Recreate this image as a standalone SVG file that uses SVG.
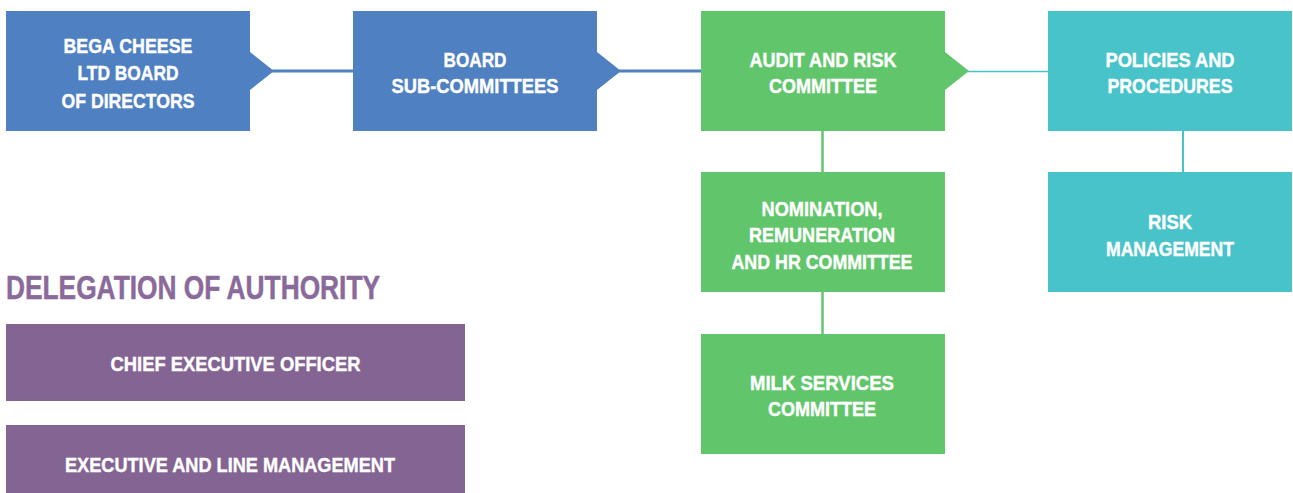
<svg xmlns="http://www.w3.org/2000/svg" width="1293" height="493" viewBox="0 0 1293 493">
  <style>
    .blue { fill: #4E80C2; }
    .green { fill: #61C66B; }
    .teal { fill: #48C3C9; }
    .purple { fill: #846493; }
    .lbl { font-family: "Liberation Sans", Arial, sans-serif; font-weight: bold; font-size: 20px; fill: #FFFFFF; stroke: #FFFFFF; stroke-width: 0.4; text-anchor: middle; }
    .title { font-family: "Liberation Sans", Arial, sans-serif; font-weight: bold; font-size: 34px; fill: #8A6A9A; stroke: #8A6A9A; stroke-width: 0.5; }
    .ln { fill: none; }
  </style>
  <rect width="1293" height="493" fill="#FFFFFF"/>

  <!-- connectors -->
  <g id="connectors">
    <line class="ln" x1="272" y1="71" x2="354" y2="71" stroke="#4E80C2" stroke-width="3"/>
    <line class="ln" x1="619" y1="71" x2="702" y2="71" stroke="#4E80C2" stroke-width="3"/>
    <line class="ln" x1="967" y1="71.5" x2="1049" y2="71.5" stroke="#48C3C9" stroke-width="1.6"/>
    <line class="ln" x1="822.5" y1="130" x2="822.5" y2="173" stroke="#61C66B" stroke-width="2.5"/>
    <line class="ln" x1="822.5" y1="291" x2="822.5" y2="335" stroke="#61C66B" stroke-width="2.5"/>
    <line class="ln" x1="1183" y1="130" x2="1183" y2="173" stroke="#48C3C9" stroke-width="2"/>
  </g>

  <!-- board of directors -->
  <g id="board-of-directors">
    <path class="blue" d="M6 11 H250 V52 L274 71 L250 90 V131 H6 Z"/>
    <text class="lbl" x="128" y="52.5" textLength="129" lengthAdjust="spacingAndGlyphs">BEGA CHEESE</text>
    <text class="lbl" x="128" y="80" textLength="101" lengthAdjust="spacingAndGlyphs">LTD BOARD</text>
    <text class="lbl" x="128" y="107.5" textLength="133" lengthAdjust="spacingAndGlyphs">OF DIRECTORS</text>
  </g>

  <!-- board sub-committees -->
  <g id="board-sub-committees">
    <path class="blue" d="M353 11 H597 V52 L621 71 L597 90 V131 H353 Z"/>
    <text class="lbl" x="475" y="66.5" textLength="63" lengthAdjust="spacingAndGlyphs">BOARD</text>
    <text class="lbl" x="475" y="93" textLength="167" lengthAdjust="spacingAndGlyphs">SUB-COMMITTEES</text>
  </g>

  <!-- audit and risk committee -->
  <g id="audit-risk-committee">
    <path class="green" d="M701 11 H945 V52 L969 71 L945 90 V131 H701 Z"/>
    <text class="lbl" x="823" y="67" textLength="147" lengthAdjust="spacingAndGlyphs">AUDIT AND RISK</text>
    <text class="lbl" x="823" y="93" textLength="108" lengthAdjust="spacingAndGlyphs">COMMITTEE</text>
  </g>

  <!-- policies and procedures -->
  <g id="policies-procedures">
    <rect class="teal" x="1048" y="11" width="244" height="120"/>
    <text class="lbl" x="1170" y="67" textLength="129" lengthAdjust="spacingAndGlyphs">POLICIES AND</text>
    <text class="lbl" x="1170" y="93" textLength="125" lengthAdjust="spacingAndGlyphs">PROCEDURES</text>
  </g>

  <!-- nomination, remuneration and HR committee -->
  <g id="nomination-committee">
    <rect class="green" x="701" y="172" width="244" height="120"/>
    <text class="lbl" x="822" y="215.5" textLength="121" lengthAdjust="spacingAndGlyphs">NOMINATION,</text>
    <text class="lbl" x="822" y="242" textLength="146" lengthAdjust="spacingAndGlyphs">REMUNERATION</text>
    <text class="lbl" x="822" y="268.5" textLength="181" lengthAdjust="spacingAndGlyphs">AND HR COMMITTEE</text>
  </g>

  <!-- milk services committee -->
  <g id="milk-services-committee">
    <rect class="green" x="701" y="334" width="244" height="120"/>
    <text class="lbl" x="822" y="389.5" textLength="144" lengthAdjust="spacingAndGlyphs">MILK SERVICES</text>
    <text class="lbl" x="822" y="416" textLength="108" lengthAdjust="spacingAndGlyphs">COMMITTEE</text>
  </g>

  <!-- risk management -->
  <g id="risk-management">
    <rect class="teal" x="1048" y="172" width="244" height="120"/>
    <text class="lbl" x="1170" y="228.5" textLength="44" lengthAdjust="spacingAndGlyphs">RISK</text>
    <text class="lbl" x="1170" y="255.5" textLength="128" lengthAdjust="spacingAndGlyphs">MANAGEMENT</text>
  </g>

  <!-- delegation of authority -->
  <text class="title" x="6" y="299" textLength="374" lengthAdjust="spacingAndGlyphs">DELEGATION OF AUTHORITY</text>

  <g id="chief-executive-officer">
    <rect class="purple" x="6" y="324" width="459" height="77"/>
    <text class="lbl" x="235.5" y="371" textLength="250" lengthAdjust="spacingAndGlyphs">CHIEF EXECUTIVE OFFICER</text>
  </g>

  <g id="executive-line-management">
    <rect class="purple" x="6" y="425" width="459" height="68"/>
    <text class="lbl" x="230" y="472" textLength="330" lengthAdjust="spacingAndGlyphs">EXECUTIVE AND LINE MANAGEMENT</text>
  </g>
</svg>
